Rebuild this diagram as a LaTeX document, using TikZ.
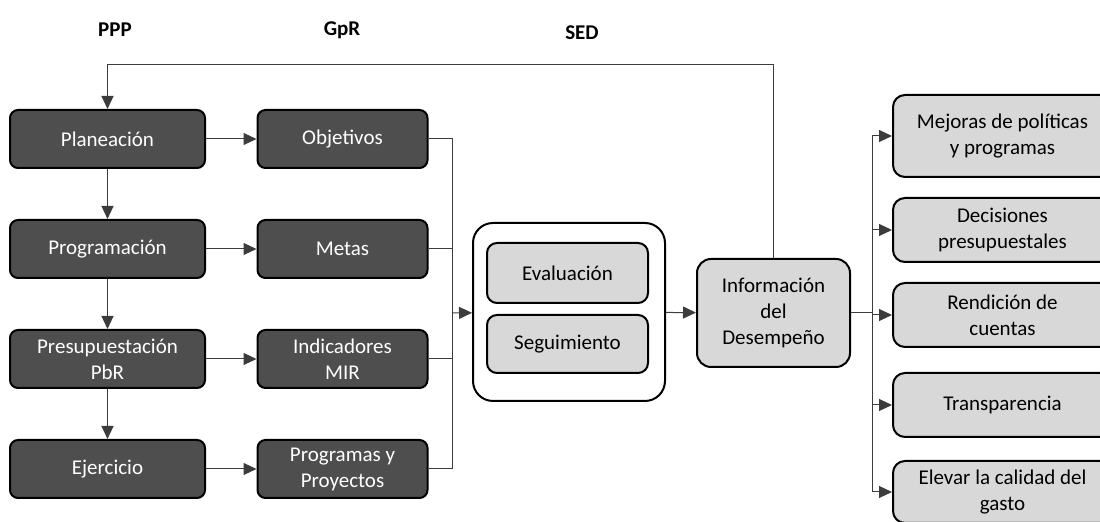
\documentclass[tikz,border=0pt]{standalone}
\usepackage{fontspec}
\setmainfont{Carlito}
\usetikzlibrary{arrows.meta}
\definecolor{darkbox}{RGB}{78,78,78}
\definecolor{lightbox}{RGB}{216,216,216}
\definecolor{wire}{RGB}{60,60,60}
\begin{document}
\begin{tikzpicture}[x=0.5pt, y=-0.5pt, thin,
  >={Triangle[length=6.5pt,width=6pt]},
  main/.style = {draw, line width=1pt, rounded corners=4pt, fill=darkbox, text=white, align=center,
    font=\fontsize{10.5}{13}\selectfont, minimum width=97.5pt, minimum height=29pt, inner sep=1pt},
  gpr/.style = {main, minimum width=85pt},
  light/.style = {draw, line width=1pt, rounded corners=5pt, fill=lightbox, text=black, align=center,
    font=\fontsize{10.5}{13}\selectfont, inner sep=1pt},
  result/.style = {light, rounded corners=6pt, minimum width=109.5pt, minimum height=32pt},
  head/.style = {font=\fontsize{10.5}{12}\selectfont\bfseries},
  wires/.style = {draw=wire, line width=0.5pt}]
\useasboundingbox (0,0) rectangle (1100,522);
\clip (0,0) rectangle (1100,522);

% column headers
\node[head] (hPPP) at (115,30) {PPP};
\node[head] (hGpR) at (342,30) {GpR};
\node[head] (hSED) at (582,33) {SED};

% PPP
\node[main] (P1) at (107.5,139) {Planeación};
\node[main] (P2) [below of=P1, node distance=55pt] {Programación};
\node[main] (P3) [below of=P2, node distance=55pt] {Presupuestación\\PbR};
\node[main] (P4) [below of=P3, node distance=55pt] {Ejercicio};

% GpR
\node[gpr] (G1) [right of=P1, node distance=117.5pt] {Objetivos};
\node[gpr] (G2) [right of=P2, node distance=117.5pt] {Metas};
\node[gpr] (G3) [right of=P3, node distance=117.5pt] {Indicadores\\MIR};
\node[gpr] (G4) [right of=P4, node distance=117.5pt] {Programas y\\Proyectos};

% SED
\node[draw, line width=1pt, rounded corners=10pt, fill=white, minimum width=96pt, minimum height=89pt] (sed) at (569,312) {};
\node[light, minimum width=80.5pt, minimum height=30pt] (ev) at (567.5,273) {Evaluación};
\node[light, minimum width=80.5pt, minimum height=29pt] (seg) at (567.5,344) {Seguimiento};
\node[light, rounded corners=7pt, minimum width=76.5pt, minimum height=54pt] (info) at (773.5,313) {Información\\del\\Desempeño};

% results
\node[result, minimum height=41pt] (R1) at (1002.5,136) {Mejoras de políticas\\y programas};
\node[result] (R2) [below of=R1, node distance=47pt] {Decisiones\\presupuestales};
\node[result] (R3) [below of=R2, node distance=42.5pt] {Rendición de\\cuentas};
\node[result] (R4) [below of=R3, node distance=45pt] {Transparencia};
\node[result, minimum height=31pt] (R5) [below of=R4, node distance=43.5pt] {Elevar la calidad del\\gasto};

\coordinate (col) at (452,313);
\coordinate (br) at (872,313);
\coordinate (fb) at (773.5,65);

\draw[wires,->] (P1) -- (P2);
\draw[wires,->] (P2) -- (P3);
\draw[wires,->] (P3) -- (P4);
\foreach \i in {1,...,4} {
  \draw[wires,->] (P\i) -- (G\i);
  \draw[wires] (G\i) -| (col);
}
\draw[wires,->] (col) -- (sed);
\draw[wires,->] (sed) -- (info);
\draw[wires,->] (info.north) -- (fb) -| (P1.north);
\draw[wires] (info) -- (br);
\foreach \i in {1,...,5}
  \draw[wires,->] (br) |- (R\i);
\end{tikzpicture}
\end{document}
